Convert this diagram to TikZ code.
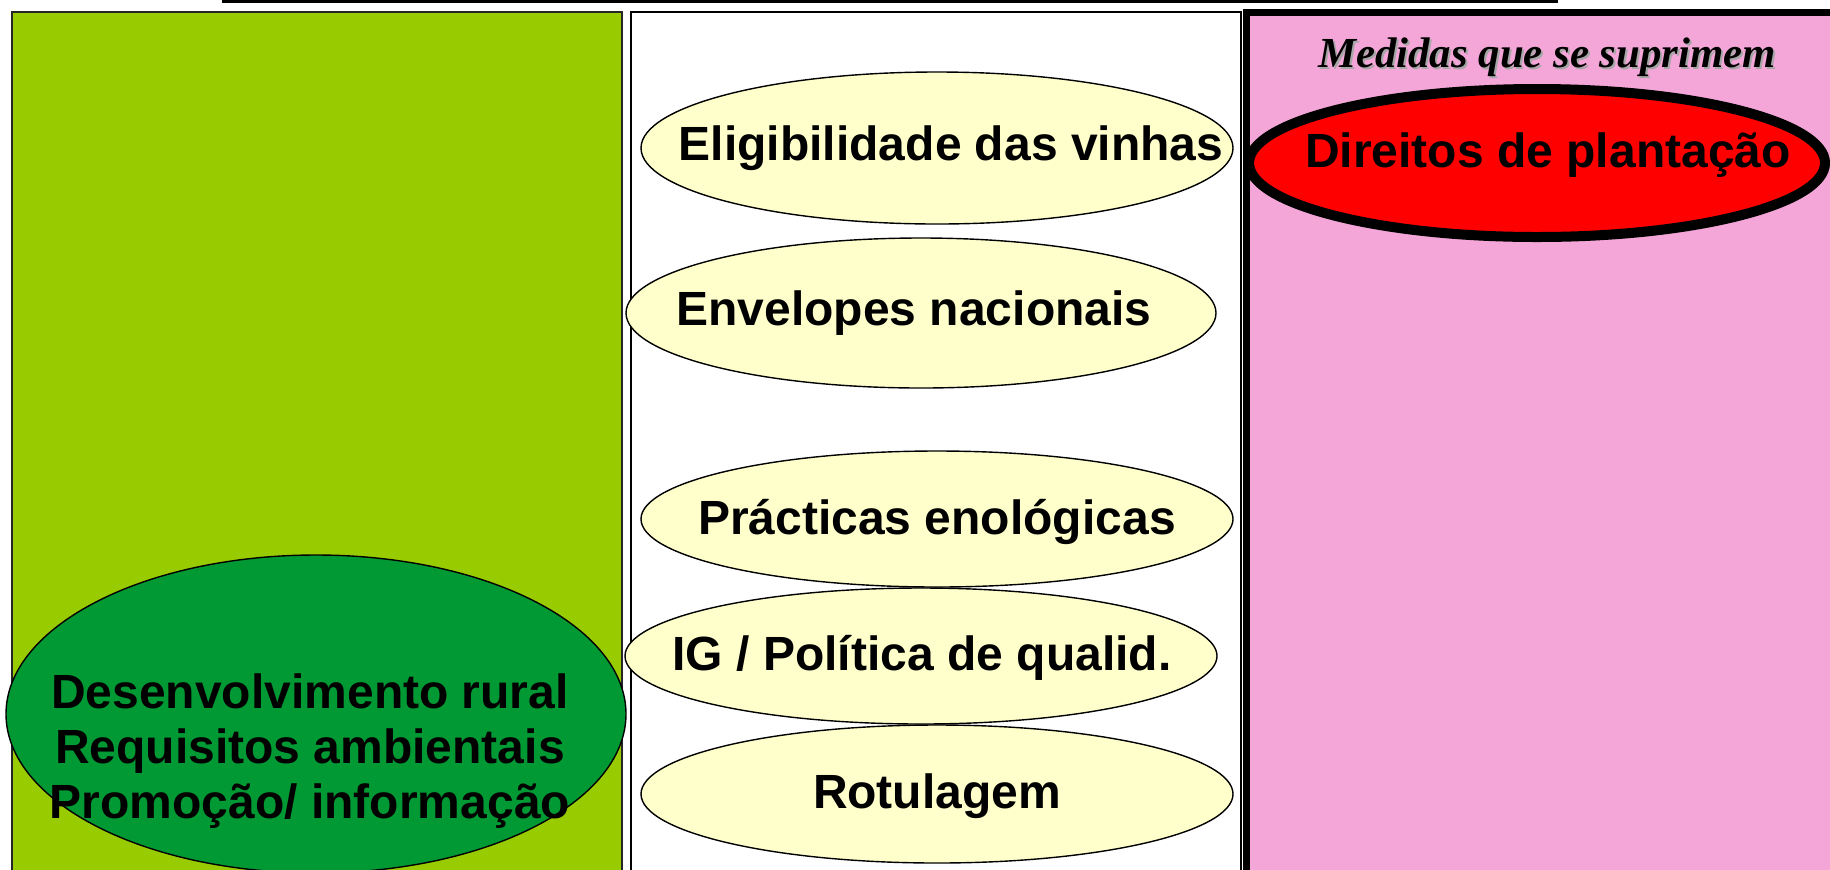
\documentclass[tikz,border=0pt]{standalone}
\usepackage{fontspec}
\setmainfont{Liberation Sans}
\newfontfamily\headserif{Liberation Serif}
\usepackage{tikz}
\usepackage{xcolor}
\usetikzlibrary{shapes.geometric}
\definecolor{leaf}{HTML}{99CC00}
\definecolor{forest}{HTML}{009933}
\definecolor{cream}{HTML}{FFFFCC}
\definecolor{blush}{HTML}{F5A6D8}
\tikzset{
    panel-box/.style = {draw=black, line width=1pt},
    oval-box/.style = {draw=black, fill=cream, ellipse, line width=0.7pt, inner sep=0pt, minimum width=296pt},
    oval-text/.style = {inner sep=0pt, font=\fontsize{24}{27.5}\selectfont\bfseries, align=center},
    head-text/.style = {inner sep=0pt, font=\headserif\fontsize{21.4}{24}\selectfont\bfseries\itshape},
}

\begin{document}
\begin{tikzpicture}[x=0.5pt, y=-0.5pt]
\useasboundingbox (0,0) rectangle (1830,869);
\fill[white] (0,0) rectangle (1830,869);
\draw[line width=2pt] (222,1) -- (1558,1);
\draw[panel-box, draw=black!85, fill=leaf] (12,12) rectangle (622,890);
\draw[panel-box, fill=white] (631,12) rectangle (1241,890);
\draw[line width=3.5pt, fill=blush] (1246.5,12) rectangle (1880,900);

\node[head-text, text=black!35] (head-shadow) at (1549,59) {Medidas que se suprimem};
\node[head-text] (head) at (1547,57) {Medidas que se suprimem};

\node[oval-box, fill=red, line width=5pt, minimum width=288pt, minimum height=74pt] (rights) at (1537,163) {};
\node[oval-text] (rights-text) at ([shift={(11,-8)}]rights.center) {Direitos de plantação};

\node[oval-box, minimum height=76pt] (vines) at (937,148) {};
\node[oval-text] (vines-text) at ([shift={(14,0)}]vines.center) {Eligibilidade das vinhas};
\node[oval-box, minimum width=295pt, minimum height=75pt] (envelopes) at (921,313) {};
\node[oval-text] (envelopes-text) at ([shift={(-7,0)}]envelopes.center) {Envelopes nacionais};
\node[oval-box, minimum height=68pt] (practices) at (937,519) {};
\node[oval-text] (practices-text) at ([shift={(0,3)}]practices.center) {Prácticas enológicas};
\node[oval-box, minimum height=68pt] (quality) at (921,656) {};
\node[oval-text] (quality-text) at ([shift={(1,2)}]quality.center) {IG / Política de qualid.};
\node[oval-box, minimum height=69pt] (labels) at (937,794) {};
\node[oval-text] (labels-text) at ([shift={(0,2)}]labels.center) {Rotulagem};

\node[oval-box, fill=forest, minimum width=310pt, minimum height=159pt] (rural) at (316,714) {};
\node[oval-text] (rural-text) at ([shift={(-6,37)}]rural.center) {Desenvolvimento rural\\Requisitos ambientais\\Promoção/ informação};
\end{tikzpicture}
\end{document}
